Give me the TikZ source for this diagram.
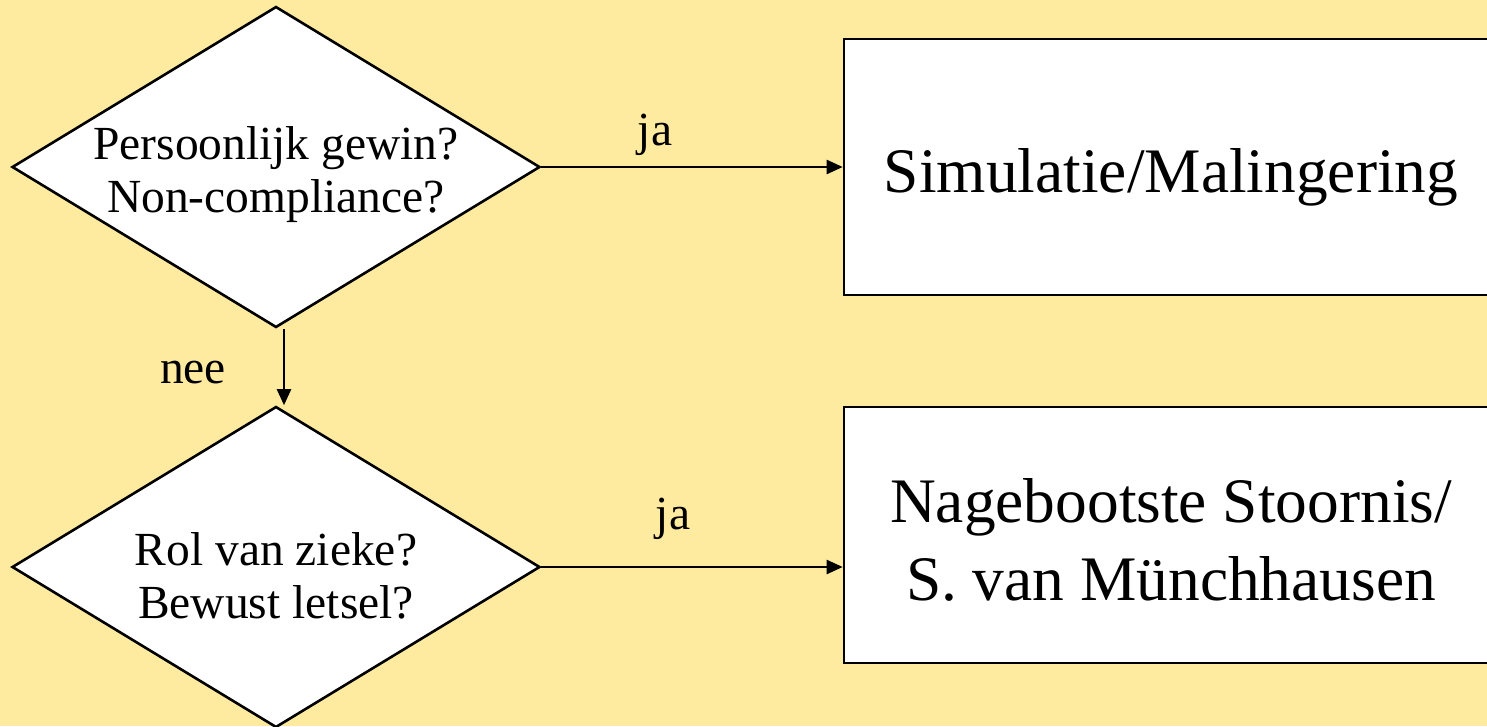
\documentclass[tikz,border=0pt]{standalone}
\usepackage{fontspec}
\setmainfont{Liberation Serif}
\usetikzlibrary{shapes.geometric,arrows.meta}
\definecolor{bgyellow}{RGB}{255,235,160}
\tikzset{
  decision/.style={diamond, draw=black, fill=white, line width=2.6pt, inner sep=0pt,
    minimum width=528pt, minimum height=321pt},
  decisiontext/.style={align=center, font=\fontsize{47.5}{53}\selectfont},
  outcome/.style={rectangle, draw=black, fill=white, line width=2.6pt, inner sep=0pt,
    minimum width=654pt, minimum height=256pt},
  outcometext/.style={align=center, font=\fontsize{63.4}{78}\selectfont},
  flow/.style={line width=2.4pt, -{Triangle[length=16pt,width=14pt]}},
  answer/.style={font=\fontsize{47.5}{53}\selectfont}
}
\begin{document}
\begin{tikzpicture}[x=1pt,y=-1pt]
  \fill[bgyellow] (0,0) rectangle (1487,726);
  \useasboundingbox (0,0) rectangle (1487,726);
  \clip (0,0) rectangle (1487,726);

  \node[decision] (q1) at (276,167) {};
  \node[decision] (q2) at (276,567) {};
  \node[outcome] (r1) at (1171,167) {};
  \node[outcome] (r2) at (1171,535) {};

  \node[decisiontext] (q1t) at (276,175) {Persoonlijk gewin?\\Non-compliance?};
  \node[decisiontext] (q2t) at (276,576) {Rol van zieke?\\Bewust letsel?};
  \node[outcometext] (r1t) at (1171,177) {Simulatie/Malingering};
  \node[outcometext] (r2t) at (1171,540) {Nagebootste Stoornis/\\S. van Münchhausen};

  \draw[flow] (q1.east) -- (r1.west |- q1.east);
  \draw[flow] (q2.east) -- (r2.west |- q2.east);
  \draw[flow] ([xshift=8pt]q1.south) -- ([xshift=8pt]q2.north);

  \node[answer] (ja1) at (655,135) {ja};
  \node[answer] (ja2) at (673,519) {ja};
  \node[answer] (nee) at (193,373) {nee};
\end{tikzpicture}
\end{document}
